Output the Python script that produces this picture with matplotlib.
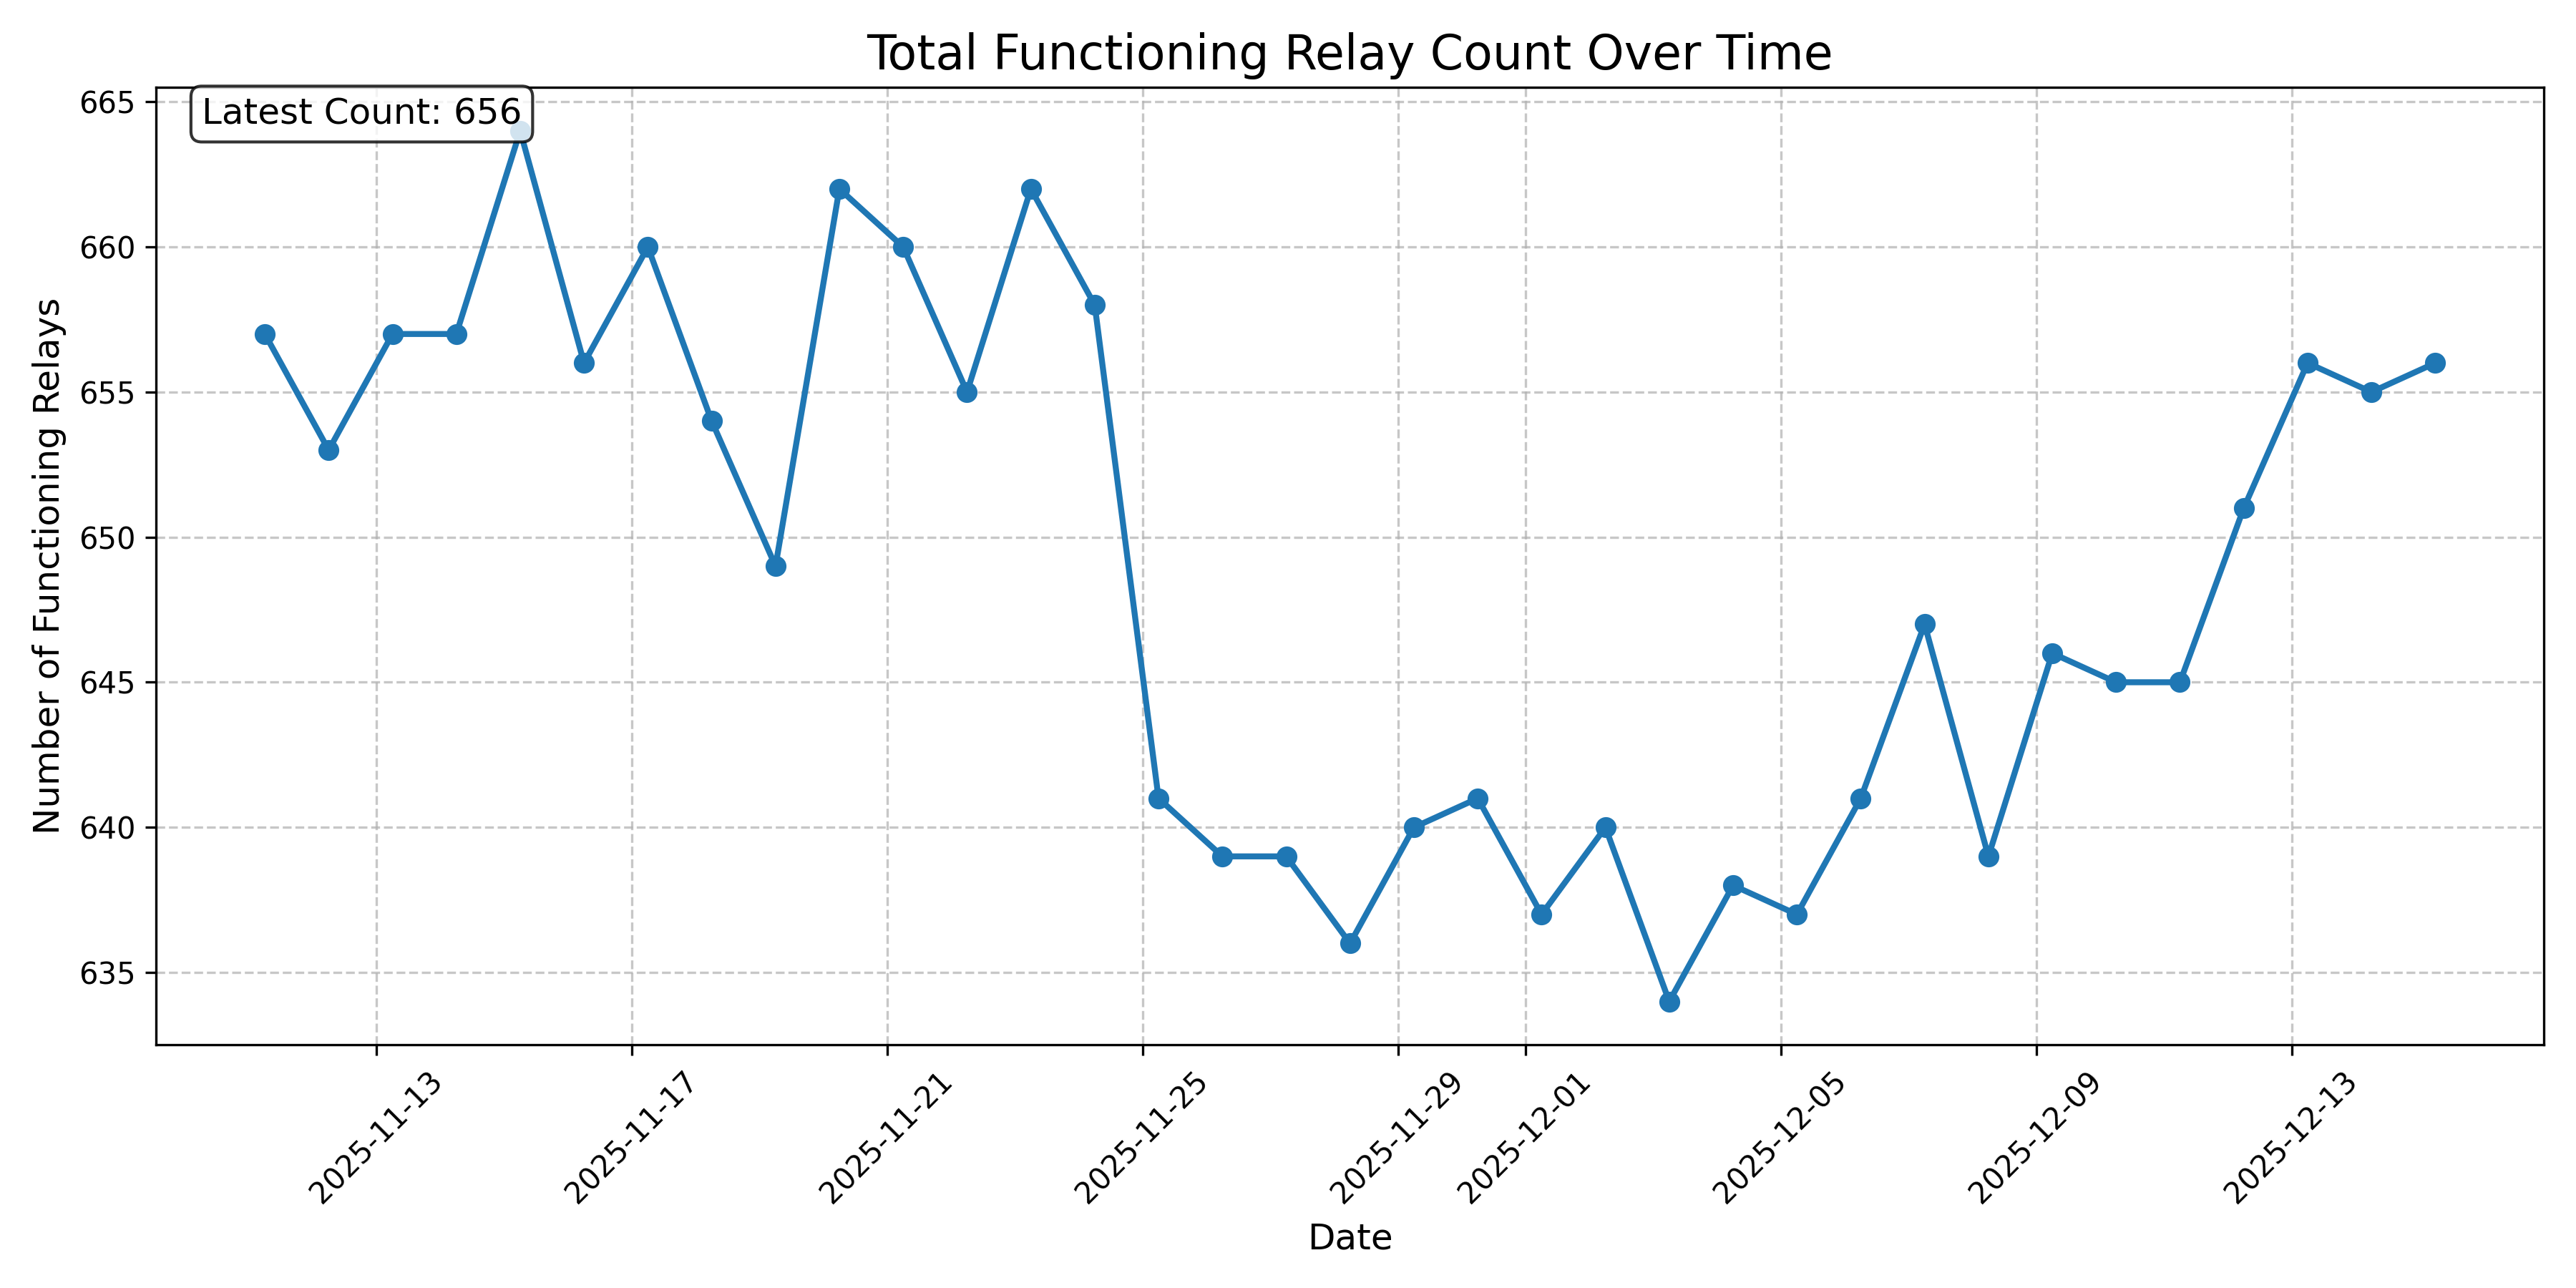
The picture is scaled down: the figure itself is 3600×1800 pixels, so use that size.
import matplotlib
matplotlib.use("Agg")
from matplotlib import pyplot as plt
import pandas as pd

dates = pd.date_range("2025-11-11 06:00", "2025-12-15 06:00", freq="D")
counts = [657, 653, 657, 657, 664, 656, 660, 654, 649, 662,
          660, 655, 662, 658, 641, 639, 639, 636, 640, 641,
          637, 640, 634, 638, 637, 641, 647, 639, 646, 645,
          645, 651, 656, 655, 656]

fig, ax = plt.subplots(figsize=(12, 6), dpi=300)
ax.plot(dates, counts, marker="o", linewidth=2, markersize=6)
ax.set_title("Total Functioning Relay Count Over Time", fontsize=16)
ax.set_xlabel("Date", fontsize=12)
ax.set_ylabel("Number of Functioning Relays", fontsize=12)
ax.grid(True, linestyle="--", alpha=0.7)
plt.xticks(rotation=45)
# 右上角显示最新数值
ax.text(0.019, 0.99, "Latest Count: {}".format(counts[-1]), transform=ax.transAxes,
        fontsize=12, va="top",
        bbox=dict(boxstyle="round", facecolor="white", alpha=0.8))
plt.tight_layout()
plt.savefig("out.png")
